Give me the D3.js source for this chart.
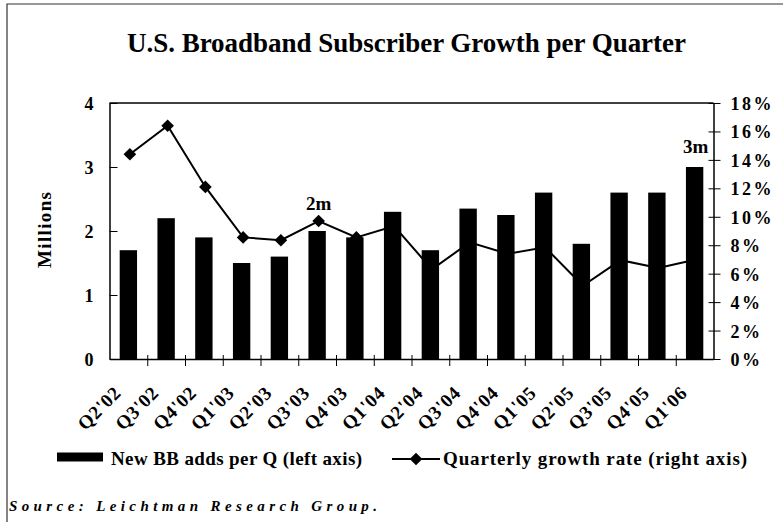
<!DOCTYPE html>
<html>
<head>
<meta charset="utf-8">
<script src="https://cdn.jsdelivr.net/npm/d3@7"></script>
<style>
  body { margin: 0; background: #fff; }
  text { font-family: "Liberation Serif", "Times New Roman", serif; fill: #000; }
</style>
</head>
<body>
<div id="chart"></div>
<script>
// data
const quarters = ["Q2'02", "Q3'02", "Q4'02", "Q1'03", "Q2'03", "Q3'03", "Q4'03", "Q1'04",
                  "Q2'04", "Q3'04", "Q4'04", "Q1'05", "Q2'05", "Q3'05", "Q4'05", "Q1'06"];
const newAdds = [1.7, 2.2, 1.9, 1.5, 1.6, 2.0, 1.9, 2.3, 1.7, 2.35, 2.25, 2.6, 1.8, 2.6, 2.6, 3.0];
const growthRate = [14.4, 16.4, 12.1, 8.55, 8.35, 9.7, 8.55, 9.35, 6.3, 8.2, 7.4, 7.85, 5.15, 6.95, 6.4, 7.0];
const leftTicks = [0, 1, 2, 3, 4];
const rightTicks = [0, 2, 4, 6, 8, 10, 12, 14, 16, 18];

const W = 783, H = 524;
const plot = {left: 109.5, right: 713.5, top: 103, bottom: 359};

const svg = d3.select("#chart").append("svg")
  .attr("width", W)
  .attr("height", H);

// outer frame (only top and left edges show)
svg.append("path")
  .attr("d", "M7,522 V4 H783")
  .attr("fill", "none")
  .attr("stroke", "#333")
  .attr("stroke-width", 1.2);

// title
svg.append("text")
  .attr("x", 127).attr("y", 52)
  .attr("font-size", 27).attr("font-weight", "bold")
  .attr("textLength", 559).attr("lengthAdjust", "spacing")
  .text("U.S. Broadband Subscriber Growth per Quarter");

const x = d3.scaleBand()
  .domain(quarters)
  .range([plot.left, plot.right])
  .paddingInner(0.54)
  .paddingOuter(0.27);

const yL = d3.scaleLinear().domain([0, 4]).range([plot.bottom, plot.top]);
const yR = d3.scaleLinear().domain([0, 18]).range([plot.bottom, plot.top]);
const xEdge = d3.scaleLinear().domain([0, quarters.length]).range([plot.left, plot.right]);

// top border of plot area
svg.append("line")
  .attr("x1", plot.left).attr("x2", plot.right)
  .attr("y1", plot.top).attr("y2", plot.top)
  .attr("stroke", "#000").attr("stroke-width", 1.5);

// growth line (drawn under the bars, like the original)
const cx = d => x(d) + x.bandwidth() / 2 + 1.5;
const line = d3.line()
  .x((d, i) => cx(quarters[i]))
  .y(d => yR(d));

svg.append("path")
  .datum(growthRate)
  .attr("d", line)
  .attr("fill", "none")
  .attr("stroke", "#000")
  .attr("stroke-width", 2);

const diamond = d3.symbol().type(d3.symbolSquare).size(80);
svg.selectAll(".marker")
  .data(growthRate)
  .enter()
  .append("path")
    .attr("class", "marker")
    .attr("d", diamond)
    .attr("transform", (d, i) => "translate(" + cx(quarters[i]) + "," + yR(d) + ") rotate(45)")
    .attr("fill", "#000");

// bars
svg.selectAll(".bar")
  .data(newAdds)
  .enter()
  .append("rect")
    .attr("class", "bar")
    .attr("x", (d, i) => x(quarters[i]))
    .attr("y", d => yL(d))
    .attr("width", x.bandwidth())
    .attr("height", d => yL(0) - yL(d))
    .attr("fill", "#000");

// left axis
const gL = svg.append("g")
  .attr("transform", "translate(" + plot.left + ",0)")
  .call(d3.axisLeft(yL).tickValues(leftTicks).tickFormat(d3.format("d"))
    .tickSizeInner(-8).tickSizeOuter(0).tickPadding(16));
gL.select(".domain").attr("stroke-width", 1.5);
gL.selectAll("text")
  .attr("font-size", 18).attr("font-weight", "bold")
  .attr("font-family", "Liberation Serif").attr("dy", "0.36em");

// right axis
const gR = svg.append("g")
  .attr("transform", "translate(" + plot.right + ",0)")
  .call(d3.axisRight(yR).tickValues(rightTicks).tickFormat(d => d + "%")
    .tickSizeInner(7).tickSizeOuter(0).tickPadding(10));
gR.select(".domain").attr("stroke-width", 1.5);
gR.selectAll(".tick line").attr("x1", -5);
gR.selectAll("text")
  .attr("font-size", 18).attr("font-weight", "bold")
  .attr("font-family", "Liberation Serif").attr("dy", "0.36em")
  .attr("letter-spacing", 2.5);

// bottom axis: ticks between the quarters
const gB = svg.append("g")
  .attr("transform", "translate(0," + plot.bottom + ")")
  .call(d3.axisBottom(xEdge).tickValues(d3.range(1, quarters.length)).tickFormat("")
    .tickSizeInner(7).tickSizeOuter(0));
gB.select(".domain").attr("stroke-width", 1.5);
gB.selectAll(".tick line").attr("y1", -4);

// quarter labels, rotated
svg.selectAll(".qlabel")
  .data(quarters)
  .enter()
  .append("text")
    .attr("class", "qlabel")
    .attr("text-anchor", "end")
    .attr("font-size", 19).attr("font-weight", "bold")
    .attr("letter-spacing", 0.8)
    .attr("transform", d => "translate(" + (x(d) + x.bandwidth() / 2 - 6) + "," + 394 + ") rotate(-45)")
    .text(d => d);

// y title
svg.append("text")
  .attr("transform", "translate(51,230) rotate(-90)")
  .attr("text-anchor", "middle")
  .attr("font-size", 19).attr("font-weight", "bold")
  .attr("textLength", 76).attr("lengthAdjust", "spacing")
  .text("Millions");

// annotations
svg.append("text")
  .attr("x", cx(quarters[5])).attr("y", yR(growthRate[5]) - 11)
  .attr("text-anchor", "middle")
  .attr("font-size", 19).attr("font-weight", "bold")
  .text("2m");

svg.append("text")
  .attr("x", x(quarters[15]) + x.bandwidth() / 2 + 1).attr("y", yL(newAdds[15]) - 14)
  .attr("text-anchor", "middle")
  .attr("font-size", 19).attr("font-weight", "bold")
  .text("3m");

// legend
svg.append("rect")
  .attr("x", 57).attr("y", 452.5)
  .attr("width", 46).attr("height", 9)
  .attr("fill", "#000");
svg.append("text")
  .attr("x", 111).attr("y", 465)
  .attr("font-size", 19).attr("font-weight", "bold")
  .attr("textLength", 251).attr("lengthAdjust", "spacing")
  .text("New BB adds per Q (left axis)");

svg.append("line")
  .attr("x1", 392).attr("x2", 440)
  .attr("y1", 459).attr("y2", 459)
  .attr("stroke", "#000").attr("stroke-width", 2);
svg.append("path")
  .attr("d", diamond)
  .attr("transform", "translate(416,459) rotate(45)")
  .attr("fill", "#000");
svg.append("text")
  .attr("x", 443).attr("y", 465)
  .attr("font-size", 19).attr("font-weight", "bold")
  .attr("textLength", 304).attr("lengthAdjust", "spacing")
  .text("Quarterly growth rate (right axis)");

// source
svg.append("text")
  .attr("x", 9).attr("y", 511)
  .attr("font-size", 15).attr("font-weight", "bold").attr("font-style", "italic")
  .attr("textLength", 368).attr("lengthAdjust", "spacing")
  .text("Source: Leichtman Research Group.");
</script>
</body>
</html>
